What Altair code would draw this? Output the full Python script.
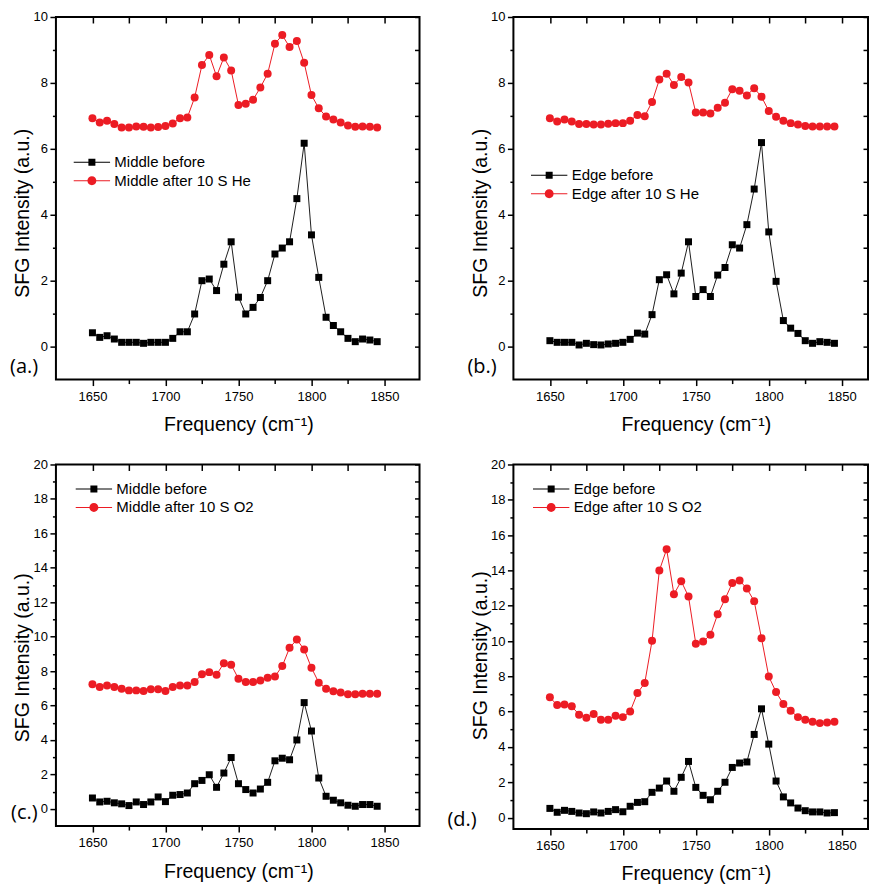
import altair as alt
import pandas as pd

# ---------------- data ----------------
freq = [1650, 1655, 1660, 1665, 1670, 1675, 1680, 1685, 1690, 1695,
        1700, 1705, 1710, 1715, 1720, 1725, 1730, 1735, 1740, 1745,
        1750, 1755, 1760, 1765, 1770, 1775, 1780, 1785, 1790, 1795,
        1800, 1805, 1810, 1815, 1820, 1825, 1830, 1835, 1840, 1845]

a_before = [0.42, 0.28, 0.33, 0.23, 0.13, 0.13, 0.13, 0.10, 0.13, 0.13,
            0.13, 0.25, 0.45, 0.45, 0.99, 2.00, 2.05, 1.70, 2.50, 3.18,
            1.50, 0.99, 1.19, 1.49, 2.00, 2.81, 2.99, 3.18, 4.49, 6.17,
            3.39, 2.10, 0.89, 0.64, 0.45, 0.25, 0.15, 0.23, 0.20, 0.15]
a_after = [6.93, 6.80, 6.85, 6.75, 6.65, 6.65, 6.68, 6.67, 6.65, 6.66,
           6.69, 6.77, 6.93, 6.95, 7.56, 8.54, 8.85, 8.20, 8.77, 8.38,
           7.33, 7.37, 7.49, 7.86, 8.28, 9.19, 9.45, 9.09, 9.27, 8.61,
           7.63, 7.23, 6.98, 6.89, 6.80, 6.71, 6.67, 6.68, 6.67, 6.65]

b_before = [0.18, 0.13, 0.13, 0.13, 0.05, 0.10, 0.06, 0.05, 0.08, 0.10,
            0.13, 0.22, 0.41, 0.38, 0.97, 2.03, 2.18, 1.60, 2.23, 3.18,
            1.52, 1.73, 1.52, 2.17, 2.40, 3.09, 2.99, 3.70, 4.78, 6.19,
            3.48, 1.98, 0.79, 0.56, 0.40, 0.18, 0.10, 0.15, 0.13, 0.10]
b_after = [6.93, 6.83, 6.89, 6.83, 6.75, 6.75, 6.74, 6.74, 6.76, 6.78,
           6.78, 6.85, 7.03, 6.99, 7.42, 8.10, 8.28, 7.94, 8.18, 8.01,
           7.10, 7.10, 7.07, 7.25, 7.40, 7.81, 7.76, 7.62, 7.84, 7.58,
           7.15, 6.97, 6.85, 6.78, 6.74, 6.69, 6.68, 6.68, 6.68, 6.68]

c_before = [0.63, 0.40, 0.44, 0.35, 0.29, 0.19, 0.40, 0.25, 0.40, 0.69,
            0.42, 0.79, 0.83, 0.92, 1.46, 1.65, 1.98, 1.25, 2.08, 2.98,
            1.46, 1.12, 0.92, 1.15, 1.54, 2.79, 2.94, 2.85, 4.00, 6.17,
            4.52, 1.79, 0.73, 0.50, 0.35, 0.21, 0.15, 0.25, 0.25, 0.15]
c_after = [7.23, 7.08, 7.17, 7.08, 6.98, 6.88, 6.88, 6.85, 6.94, 6.94,
           6.85, 7.08, 7.17, 7.17, 7.37, 7.81, 7.94, 7.79, 8.46, 8.37,
           7.56, 7.37, 7.37, 7.46, 7.62, 7.69, 8.29, 9.35, 9.83, 9.25,
           8.19, 7.33, 6.98, 6.83, 6.75, 6.65, 6.65, 6.69, 6.69, 6.69]

d_before = [0.52, 0.30, 0.41, 0.35, 0.26, 0.22, 0.32, 0.26, 0.35, 0.45,
            0.33, 0.64, 0.86, 0.90, 1.43, 1.67, 2.07, 1.49, 2.28, 3.18,
            1.71, 1.26, 1.01, 1.49, 2.00, 2.84, 3.09, 3.15, 4.71, 6.16,
            4.16, 2.07, 1.17, 0.83, 0.54, 0.39, 0.32, 0.32, 0.26, 0.28]
d_after = [6.81, 6.37, 6.41, 6.30, 5.83, 5.66, 5.86, 5.54, 5.54, 5.77,
           5.69, 6.01, 7.05, 7.62, 10.01, 13.99, 15.20, 12.65, 13.39, 12.52,
           9.84, 9.97, 10.35, 11.52, 12.37, 13.28, 13.43, 12.97, 12.26, 10.16,
           7.99, 7.11, 6.43, 6.05, 5.69, 5.54, 5.43, 5.35, 5.39, 5.43]

names_a = ["Middle before", "Middle after 10 S He"]
names_b = ["Edge before", "Edge after 10 S He"]
names_c = ["Middle before", "Middle after 10 S O2"]
names_d = ["Edge before", "Edge after 10 S O2"]

tags = ["(a.)", "(b.)", "(c.)", "(d.)"]

x_major = [1650, 1700, 1750, 1800, 1850]
x_minor = [1675, 1725, 1775, 1825]
x_all = [1650, 1675, 1700, 1725, 1750, 1775, 1800, 1825, 1850]

y10_major = [0, 2, 4, 6, 8, 10]
y10_minor = [1, 3, 5, 7, 9]
y20_major = [0, 2, 4, 6, 8, 10, 12, 14, 16, 18, 20]
y20_minor = [1, 3, 5, 7, 9, 11, 13, 15, 17, 19]

X_TITLE = "Frequency (cm\u207b\u00b9)"
Y_TITLE = "SFG Intensity (a.u.)"

# ---------------- styles ----------------
RED = "#ec1c24"
BLACK = "#000000"
FONT = "Liberation Sans"

LINE_SYM = "M-2.6,-0.07H2.6V0.07H-2.6Z"
SQUARE_SYM = LINE_SYM + " M-0.5,-0.5H0.5V0.5H-0.5Z"
CIRCLE_SYM = LINE_SYM + " M-0.64,0A0.64,0.64 0 1,1 0.64,0A0.64,0.64 0 1,1 -0.64,0Z"


def panel(before, after, names, xdom, ydom, w, h, y_major, y_minor,
          leg_x, leg_y, tag, tag_x, tag_y, ytitle_y, xtitle_x):
    df = pd.DataFrame({
        "freq": freq + freq,
        "value": before + after,
        "series": [names[0]] * len(freq) + [names[1]] * len(freq),
    })
    xs = alt.Scale(domain=xdom, nice=False, zero=False)
    ys = alt.Scale(domain=ydom, nice=False, zero=False)
    y_all = sorted(y_major + y_minor)

    ax_bottom = alt.Axis(orient="bottom", values=x_major, format="d", tickSize=6,
                         labelPadding=4.5, labelFontSize=13, labelFlush=False,
                         labelOverlap=False, title=X_TITLE, titleFontSize=19.5,
                         titleX=xtitle_x, titleY=36)
    ax_bottom_minor = alt.Axis(orient="bottom", values=x_minor, tickSize=4,
                               labels=False, title=None)
    ax_top = alt.Axis(orient="top", values=x_all, tickSize=6, offset=-6,
                      labels=False, title=None)
    ay_left = alt.Axis(orient="left", values=y_major, format="d", tickSize=6,
                       labelPadding=2.5, labelFontSize=13, labelFlush=False,
                       labelOverlap=False, title=Y_TITLE, titleFontSize=19.5,
                       titleX=-23, titleY=ytitle_y)
    ay_left_minor = alt.Axis(orient="left", values=y_minor, tickSize=3.5,
                             labels=False, title=None)
    ay_right = alt.Axis(orient="right", values=y_all, tickSize=5, offset=-5,
                        labels=False, title=None)

    base = alt.Chart(df)
    is_before = alt.FieldEqualPredicate(field="series", equal=names[0])
    is_after = alt.FieldEqualPredicate(field="series", equal=names[1])

    black_line = base.transform_filter(is_before).mark_line(
        color="#1e1e1e", strokeWidth=1).encode(
        x=alt.X("freq:Q", scale=xs, axis=ax_bottom),
        y=alt.Y("value:Q", scale=ys, axis=ay_left))
    black_pts = base.transform_filter(is_before).mark_square(
        size=49, color=BLACK, opacity=1).encode(
        x=alt.X("freq:Q", scale=xs, axis=ax_bottom_minor),
        y=alt.Y("value:Q", scale=ys, axis=ay_left_minor))
    red_line = base.transform_filter(is_after).mark_line(
        color=RED, strokeWidth=1).encode(
        x=alt.X("freq:Q", scale=xs, axis=ax_top),
        y=alt.Y("value:Q", scale=ys, axis=ay_right))
    red_pts = base.transform_filter(is_after).mark_circle(
        size=64, color=RED, opacity=1).encode(
        x=alt.X("freq:Q", scale=xs, axis=None),
        y=alt.Y("value:Q", scale=ys, axis=None))

    leg = alt.Legend(orient="none", legendX=leg_x, legendY=leg_y, title=None,
                     labelFont=FONT, labelFontSize=15, labelColor="black",
                     labelOffset=15, labelLimit=400, symbolSize=196,
                     symbolStrokeWidth=0, symbolOpacity=1, rowPadding=2.5,
                     padding=0)
    carrier = base.transform_filter("false").mark_point(filled=True, opacity=1).encode(
        x=alt.X("freq:Q", scale=xs, axis=None),
        y=alt.Y("value:Q", scale=ys, axis=None),
        color=alt.Color("series:N", scale=alt.Scale(domain=names, range=[BLACK, RED]),
                        legend=leg),
        shape=alt.Shape("series:N", scale=alt.Scale(domain=names, range=[SQUARE_SYM, CIRCLE_SYM]),
                        legend=leg))

    tag_df = pd.DataFrame({"tag": [tag]})
    tag_txt = alt.Chart(tag_df).mark_text(
        align="left", baseline="middle", font="Open Sans", fontSize=20,
        color="black").encode(x=alt.value(tag_x), y=alt.value(tag_y), text="tag:N")

    return alt.layer(black_line, black_pts, red_line, red_pts, carrier, tag_txt).resolve_axis(
        x="independent", y="independent").properties(width=w, height=h)


pa = panel(a_before, a_after, names_a, [1625, 1874], [-1, 10], 364, 363,
           y10_major, y10_minor, 28.5, 138, tags[0], -46, 350, 196, 182.7)
pb = panel(b_before, b_after, names_b, [1625, 1868], [-1, 10], 355, 363,
           y10_major, y10_minor, 28.3, 151, tags[1], -46, 350, 196, 182.7)
pc = panel(c_before, c_after, names_c, [1625, 1874], [-1, 20], 364, 362,
           y20_major, y20_minor, 30.5, 17, tags[2], -45, 349, 193, 182.7)
pd_ = panel(d_before, d_after, names_d, [1625, 1868], [-0.65, 20], 355, 365,
            y20_major, y20_minor, 30.3, 17, tags[3], -66, 356, 191, 182.7)

chart = alt.concat(pa, pb, pc, pd_, columns=2, spacing={"row": 85, "column": 94},
                   bounds="flush").resolve_scale(
    color="independent", shape="independent").resolve_legend(
    color="independent", shape="independent").properties(
    padding={"left": 9, "top": 9.5, "right": 0, "bottom": 0},
    background="white").configure_view(
    stroke="black", strokeWidth=2).configure_axis(
    grid=False, domain=False, labelFont=FONT, titleFont=FONT,
    labelColor="black", titleColor="black", tickColor="black", tickWidth=1.5,
    titleFontWeight="normal")

chart.save("out.html", embed_options={"renderer": "svg", "actions": False})
